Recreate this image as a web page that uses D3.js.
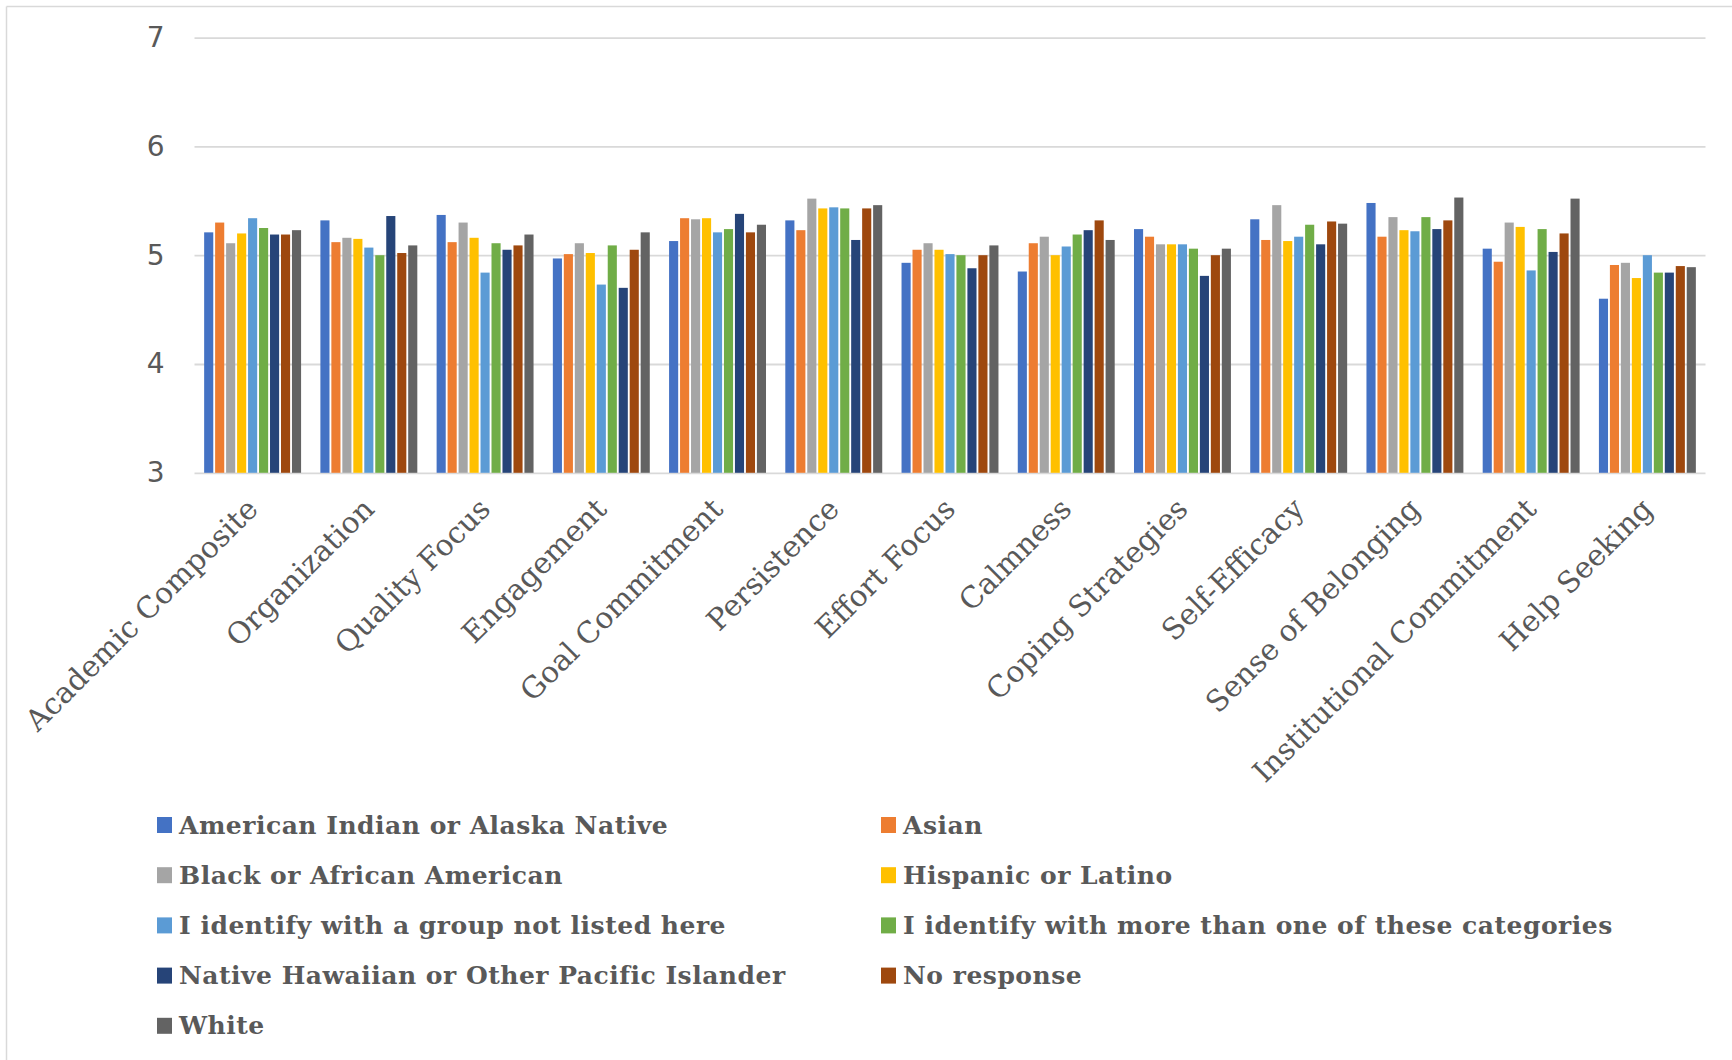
<!DOCTYPE html>
<html>
<head>
<meta charset="utf-8">
<script src="https://cdn.jsdelivr.net/npm/d3@7"></script>
<style>
  html, body { margin: 0; padding: 0; background: #ffffff; }
  svg { display: block; }
</style>
</head>
<body>
<svg id="chart" width="1732" height="1060"></svg>
<script>
// Scale categories along the x axis
const categories = [
  "Academic Composite", "Organization", "Quality Focus", "Engagement",
  "Goal Commitment", "Persistence", "Effort Focus", "Calmness",
  "Coping Strategies", "Self-Efficacy", "Sense of Belonging",
  "Institutional Commitment", "Help Seeking"
];

// Respondent groups (one bar per group in each category)
const seriesNames = [
  "American Indian or Alaska Native",
  "Asian",
  "Black or African American",
  "Hispanic or Latino",
  "I identify with a group not listed here",
  "I identify with more than one of these categories",
  "Native Hawaiian or Other Pacific Islander",
  "No response",
  "White"
];

// Mean scores, one array per group, in category order
const americanIndian = [5.21, 5.32, 5.37, 4.97, 5.13, 5.32, 4.93, 4.85, 5.24, 5.33, 5.48, 5.06, 4.60];
const asian          = [5.30, 5.12, 5.12, 5.01, 5.34, 5.23, 5.05, 5.11, 5.17, 5.14, 5.17, 4.94, 4.91];
const black          = [5.11, 5.16, 5.30, 5.11, 5.33, 5.52, 5.11, 5.17, 5.10, 5.46, 5.35, 5.30, 4.93];
const hispanic       = [5.20, 5.15, 5.16, 5.02, 5.34, 5.43, 5.05, 5.00, 5.10, 5.13, 5.23, 5.26, 4.79];
const notListed      = [5.34, 5.07, 4.84, 4.73, 5.21, 5.44, 5.01, 5.08, 5.10, 5.17, 5.22, 4.86, 5.00];
const multiple       = [5.25, 5.00, 5.11, 5.09, 5.24, 5.43, 5.00, 5.19, 5.06, 5.28, 5.35, 5.24, 4.84];
const nativeHawaiian = [5.19, 5.36, 5.05, 4.70, 5.38, 5.14, 4.88, 5.23, 4.81, 5.10, 5.24, 5.03, 4.84];
const noResponse     = [5.19, 5.02, 5.09, 5.05, 5.21, 5.43, 5.00, 5.32, 5.00, 5.31, 5.32, 5.20, 4.90];
const white          = [5.23, 5.09, 5.19, 5.21, 5.28, 5.46, 5.09, 5.14, 5.06, 5.29, 5.53, 5.52, 4.89];

const seriesValues = [americanIndian, asian, black, hispanic, notListed, multiple, nativeHawaiian, noResponse, white];

const seriesColors = ["#4472C4", "#ED7D31", "#A5A5A5", "#FFC000", "#5B9BD5", "#70AD47", "#264478", "#9E480E", "#636363"];

// Y axis ticks
const yTicks = [3, 4, 5, 6, 7];

const textColor = "#595959";
const gridColor = "#D9D9D9";

const svg = d3.select("#chart");

// Chart frame (top and left edges)
svg.append("line").attr("x1", 6.5).attr("x2", 1732).attr("y1", 6.5).attr("y2", 6.5)
  .attr("stroke", gridColor).attr("stroke-width", 1.5);
svg.append("line").attr("x1", 6.5).attr("x2", 6.5).attr("y1", 6.5).attr("y2", 1060)
  .attr("stroke", gridColor).attr("stroke-width", 1.5);

const plot = { left: 194.5, right: 1705.5, top: 37.6, bottom: 472.8 };

const x = d3.scaleBand()
  .domain(categories)
  .range([plot.left, plot.right])
  .paddingInner(0.15)
  .paddingOuter(0.075);

const xInner = d3.scaleBand()
  .domain(seriesNames)
  .range([0, x.bandwidth()])
  .paddingInner(0.17)
  .paddingOuter(0.085);

const y = d3.scaleLinear()
  .domain([3, 7])
  .range([plot.bottom, plot.top]);

// Gridlines and y tick labels
const yAxis = svg.append("g")
  .attr("transform", `translate(${plot.left},0)`)
  .call(d3.axisLeft(y).tickValues(yTicks).tickSize(-(plot.right - plot.left)).tickPadding(30).tickFormat(d3.format("d")));
yAxis.select(".domain").remove();
yAxis.selectAll(".tick line").attr("stroke", gridColor).attr("stroke-width", 1.8);
yAxis.selectAll(".tick text")
  .attr("fill", textColor)
  .style("font-family", "'DejaVu Sans', sans-serif")
  .style("font-size", "28px");

// Bars
const groups = svg.append("g").selectAll("g")
  .data(categories)
  .join("g")
  .attr("transform", d => `translate(${x(d)},0)`);

groups.selectAll("rect")
  .data((cat, i) => seriesNames.map((s, j) => ({ series: s, value: seriesValues[j][i], color: seriesColors[j] })))
  .join("rect")
  .attr("x", d => xInner(d.series))
  .attr("width", xInner.bandwidth())
  .attr("y", d => y(d.value))
  .attr("height", d => y(3) - y(d.value))
  .attr("fill", d => d.color);

// Category labels, rotated
const xAxis = svg.append("g")
  .attr("transform", `translate(0,${plot.bottom})`)
  .call(d3.axisBottom(x).tickSize(0).tickPadding(0));
xAxis.select(".domain").remove();
xAxis.selectAll(".tick text")
  .attr("fill", textColor)
  .style("font-family", "'DejaVu Serif', serif")
  .style("font-size", "29.5px")
  .attr("text-anchor", "end")
  .attr("dy", null)
  .attr("y", 0)
  .attr("transform", "translate(7,38) rotate(-45)");

// Legend: two columns
const legend = svg.append("g");
const legendRows = seriesNames.map((name, i) => ({
  name, color: seriesColors[i], col: i % 2, row: Math.floor(i / 2)
}));
const colX = [157, 881];
const rowY0 = 825, rowStep = 50.2;

const items = legend.selectAll("g")
  .data(legendRows)
  .join("g")
  .attr("transform", d => `translate(${colX[d.col]},${rowY0 + d.row * rowStep})`);
items.append("rect")
  .attr("x", 0).attr("y", -8).attr("width", 15).attr("height", 16)
  .attr("fill", d => d.color);
items.append("text")
  .attr("x", 22).attr("y", 0)
  .attr("dominant-baseline", "central")
  .attr("fill", textColor)
  .style("font-family", "'DejaVu Serif', serif")
  .style("font-weight", "bold")
  .style("font-size", "25px")
  .style("letter-spacing", "0.5px")
  .text(d => d.name);
</script>
</body>
</html>
